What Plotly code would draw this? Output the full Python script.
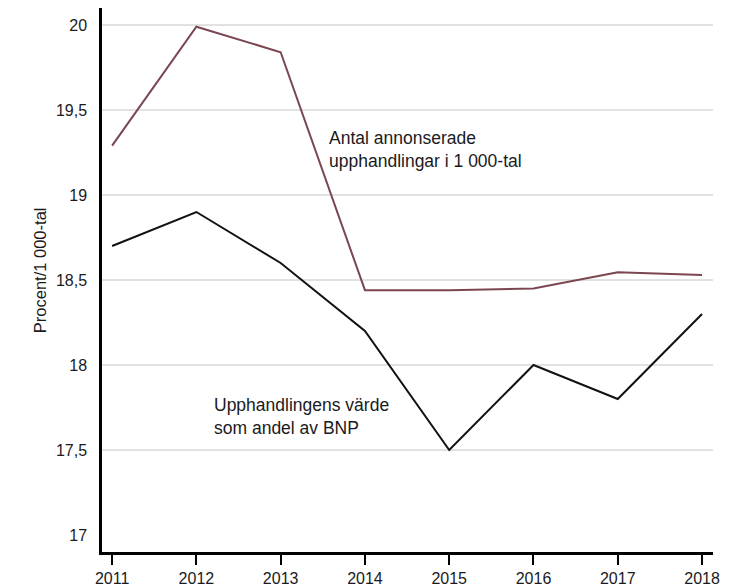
import plotly.graph_objects as go

years = [2011, 2012, 2013, 2014, 2015, 2016, 2017, 2018]
antal = [19.29, 19.99, 19.84, 18.44, 18.44, 18.45, 18.545, 18.53]
varde = [18.7, 18.9, 18.6, 18.2, 17.5, 18.0, 17.8, 18.3]
ytick_vals = [17, 17.5, 18, 18.5, 19, 19.5, 20]
ytick_text = ["17", "17,5", "18", "18,5", "19", "19,5", "20"]
grid_vals = [17.5, 18, 18.5, 19, 19.5, 20]

FONT = "Liberation Sans, Arial, sans-serif"
TXT = "#1a1a22"

fig = go.Figure()
fig.add_trace(go.Scatter(x=years, y=antal, mode="lines",
                         line=dict(color="#7a4650", width=2), showlegend=False))
fig.add_trace(go.Scatter(x=years, y=varde, mode="lines",
                         line=dict(color="#111111", width=2), showlegend=False))

shapes = []
for g in grid_vals:
    shapes.append(dict(type="line", xref="x domain", yref="y", x0=0, x1=1, y0=g, y1=g,
                       line=dict(color="#c4c4c4", width=1), layer="below"))

fig.update_layout(
    width=734, height=587,
    margin=dict(l=94, r=29, t=0, b=43),
    paper_bgcolor="white", plot_bgcolor="white",
    font=dict(family=FONT, size=16, color=TXT),
    shapes=shapes,
    xaxis=dict(range=[2010.88, 2018.13], tickvals=years, ticktext=[str(y) for y in years],
               showgrid=False, zeroline=False, showline=True, linecolor="black", linewidth=2.5,
               ticks="outside", ticklen=10, tickwidth=2, tickcolor="black", automargin=False,
               tickfont=dict(size=16, color=TXT)),
    yaxis=dict(range=[16.9, 20.1], tickvals=ytick_vals, ticktext=ytick_text,
               showgrid=False, zeroline=False, showline=True, linecolor="black", linewidth=2.5,
               ticks="", ticklabelstandoff=9, automargin=False,
               tickfont=dict(size=16, color=TXT)),
    annotations=[
        dict(x=-0.1015, y=0.518, xref="paper", yref="paper", text="Procent/1 000-tal",
             textangle=-90, showarrow=False, xanchor="center", yanchor="middle",
             font=dict(size=16.5, color=TXT, family=FONT)),
        dict(x=2013.55, y=19.27, xref="x", yref="y", text="Antal annonserade<br>upphandlingar i 1 000-tal",
             showarrow=False, xanchor="left", yanchor="middle", align="left",
             font=dict(size=17.5, color=TXT, family=FONT)),
        dict(x=2012.19, y=17.70, xref="x", yref="y", text="Upphandlingens värde<br>som andel av BNP",
             showarrow=False, xanchor="left", yanchor="middle", align="left",
             font=dict(size=17.5, color=TXT, family=FONT)),
    ],
)

fig.write_html("out.html")
